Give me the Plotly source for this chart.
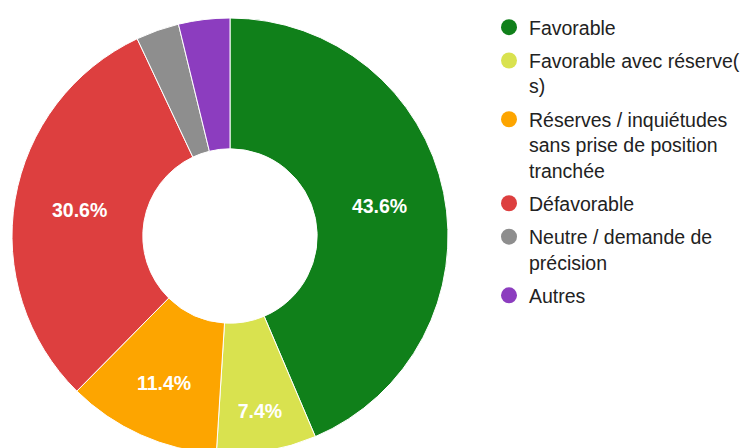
import plotly.graph_objects as go

categories = [
    "Favorable",
    "Favorable avec réserve(s)",
    "Réserves / inquiétudes sans prise de position tranchée",
    "Défavorable",
    "Neutre / demande de précision",
    "Autres",
]
legend_labels = [
    "Favorable",
    "Favorable avec réserve(<br>s)",
    "Réserves / inquiétudes<br>sans prise de position<br>tranchée",
    "Défavorable",
    "Neutre / demande de<br>précision",
    "Autres",
]
values = [43.6, 7.4, 11.4, 30.6, 3.2, 3.8]
colors = ["#10801a", "#d9e24f", "#fda500", "#dd3f3f", "#8e8e8e", "#8c3dbf"]

W, H = 753, 472
FONT = "Liberation Sans, Arial, Helvetica, sans-serif"

fig = go.Figure()
fig.add_trace(go.Pie(
    labels=categories,
    values=values,
    sort=False,
    direction="clockwise",
    rotation=0,
    hole=0.40,
    marker=dict(colors=colors, line=dict(color="white", width=1)),
    texttemplate=["%{percent:.1%}" if v >= 5 else "" for v in values],
    textposition="inside",
    insidetextorientation="horizontal",
    textfont=dict(family=FONT, size=19.5, color="white", weight="bold"),
    hoverinfo="skip",
    showlegend=False,
    domain=dict(x=[12 / W, 448 / W], y=[0, 1]),
))

for lab, col in zip(legend_labels, colors):
    fig.add_trace(go.Scatter(
        x=[None], y=[None], mode="markers",
        marker=dict(color=col, size=16, symbol="circle"),
        name=lab, legendgroup=lab, showlegend=True, hoverinfo="skip",
    ))

fig.update_layout(
    width=W, height=H,
    margin=dict(l=0, r=0, t=0, b=0),
    paper_bgcolor="white", plot_bgcolor="white",
    xaxis=dict(visible=False), yaxis=dict(visible=False),
    showlegend=True,
    legend=dict(
        x=489 / W, xanchor="left", y=1 - 8 / H, yanchor="top",
        traceorder="grouped", tracegroupgap=5, valign="top",
        font=dict(family=FONT, size=19.5, color="#222222"),
        bgcolor="rgba(0,0,0,0)", itemclick=False, itemdoubleclick=False,
    ),
)

fig.write_html(
    "out.html",
    post_script="document.documentElement.style.overflow='hidden';document.body.style.overflow='hidden';document.body.style.margin='0';",
)
